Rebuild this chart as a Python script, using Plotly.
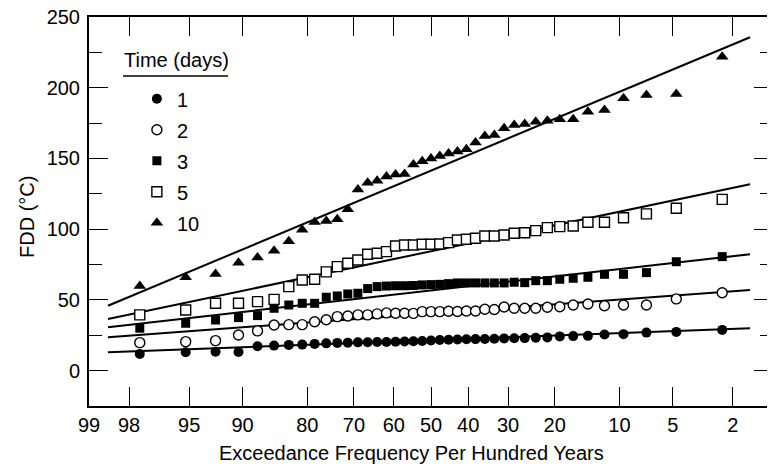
import plotly.graph_objects as go
from statistics import NormalDist

# exceedance frequency (per hundred years) of each ranked value
exceedance = [97.62, 95.24, 92.86, 90.48, 88.10, 85.71, 83.33, 80.95, 78.57, 76.19,
              73.81, 71.43, 69.05, 66.67, 64.29, 61.90, 59.52, 57.14, 54.76, 52.38,
              50.00, 47.62, 45.24, 42.86, 40.48, 38.10, 35.71, 33.33, 30.95, 28.57,
              26.19, 23.81, 21.43, 19.05, 16.67, 14.29, 11.90, 9.52, 7.14, 4.76, 2.38]

fdd_1 = [11.8, 13.0, 13.4, 13.2, 17.2, 17.7, 18.2, 18.4, 18.9, 19.3, 19.6, 19.8, 20.0, 20.1,
         20.2, 20.3, 20.4, 20.6, 20.8, 21.0, 21.3, 21.6, 21.8, 22.0, 22.2, 22.3, 22.4, 22.6,
         22.8, 22.9, 23.0, 23.2, 23.5, 24.2, 24.4, 24.6, 25.6, 25.8, 26.9, 27.4, 28.8]
fdd_2 = [19.8, 20.5, 21.2, 25.2, 28.1, 32.3, 32.5, 32.5, 34.6, 36.0, 38.2, 38.6, 39.4, 39.4,
         40.1, 40.8, 40.6, 40.6, 40.5, 41.7, 41.7, 41.7, 42.0, 41.8, 42.2, 42.2, 43.4, 43.2,
         45.0, 44.1, 44.1, 44.1, 44.8, 45.2, 46.4, 47.1, 45.9, 46.4, 46.4, 50.7, 55.1]
fdd_3 = [30.0, 33.5, 35.8, 37.5, 38.9, 44.1, 46.4, 47.6, 47.6, 51.9, 52.8, 54.2, 54.7, 58.0,
         59.4, 59.8, 60.0, 60.0, 60.2, 60.6, 60.8, 61.0, 61.5, 62.0, 62.0, 62.0, 62.0, 62.0,
         62.0, 62.5, 62.2, 63.6, 63.6, 64.6, 65.3, 66.0, 68.1, 68.1, 69.3, 77.0, 80.6]
fdd_5 = [39.4, 42.9, 47.6, 47.6, 48.8, 50.4, 59.4, 64.1, 64.6, 69.8, 73.5, 75.9, 78.2, 82.3,
         83.0, 84.1, 88.1, 88.8, 88.8, 89.3, 89.3, 89.5, 90.5, 92.4, 92.9, 93.6, 95.2, 95.2,
         95.9, 97.1, 97.5, 99.0, 101.1, 101.8, 102.3, 104.9, 104.9, 108.1, 110.8, 114.8, 121.1]
fdd_10 = [59.9, 66.0, 68.3, 76.3, 80.0, 84.8, 91.5, 99.6, 105.0, 105.8, 107.0, 114.1, 128.0,
          132.9, 134.3, 137.3, 138.6, 139.0, 145.7, 148.0, 150.0, 151.8, 153.5, 155.0, 156.5,
          161.2, 165.9, 166.6, 171.3, 173.6, 174.4, 176.0, 176.7, 177.7, 177.7, 183.1, 184.3,
          192.5, 194.9, 195.6, 221.9]

# fitted lines, given by their end values
fit_exceedance = [98.6, 1.5]
fit_1 = [13.0, 30.0]
fit_2 = [23.6, 57.0]
fit_3 = [30.7, 82.3]
fit_5 = [36.5, 131.7]
fit_10 = [45.9, 235.7]

tick_freqs = [99, 98, 95, 90, 80, 70, 60, 50, 40, 30, 20, 10, 5, 2, 1]

nd = NormalDist()


def prob(freqs):
    # normal probability scale
    return [nd.inv_cdf(1 - f / 100) for f in freqs]


FONT = 'Liberation Sans, Arial, sans-serif'

series = [
    ('1', fdd_1, fit_1, dict(symbol='circle', size=10, color='black')),
    ('2', fdd_2, fit_2, dict(symbol='circle', size=10, color='white', line=dict(color='black', width=1.4))),
    ('3', fdd_3, fit_3, dict(symbol='square', size=9, color='black')),
    ('5', fdd_5, fit_5, dict(symbol='square', size=10, color='white', line=dict(color='black', width=1.4))),
    ('10', fdd_10, fit_10, dict(symbol='triangle-up', size=11, color='black')),
]

fig = go.Figure()
for name, vals, fit, mk in series:
    fig.add_trace(go.Scatter(x=prob(fit_exceedance), y=fit, mode='lines',
                             line=dict(color='black', width=2), showlegend=False,
                             hoverinfo='skip'))
for i, (name, vals, fit, mk) in enumerate(series):
    fig.add_trace(go.Scatter(x=prob(exceedance), y=vals, mode='markers', name=name,
                             marker=mk, legendgroup='g%d' % i))

lo, hi = prob([99, 1])
# the page body adds an 8px offset, so margins are shifted back by 8px
fig.update_layout(
    width=775, height=466,
    margin=dict(l=81, r=10, t=9, b=68),
    paper_bgcolor='white', plot_bgcolor='white',
    font=dict(family=FONT, size=20, color='black'),
    showlegend=True,
    legend=dict(x=0.07, y=0.84, xanchor='left', yanchor='top',
                bgcolor='rgba(0,0,0,0)', font=dict(size=20),
                tracegroupgap=2, itemwidth=30),
    xaxis=dict(range=[lo, hi], tickvals=prob(tick_freqs), ticktext=[str(t) for t in tick_freqs],
               ticks='inside', ticklen=19, tickwidth=1.3, tickcolor='black',
               showline=True, linewidth=2, linecolor='black', mirror='ticks',
               showgrid=False, zeroline=False, tickfont=dict(size=20), automargin=False,
               ticklabeloverflow='allow'),
    yaxis=dict(range=[-25, 250], tickvals=[0, 50, 100, 150, 200, 250],
               ticks='inside', ticklen=19, tickwidth=1.3, tickcolor='black',
               minor=dict(dtick=25, tick0=0, ticks='inside', ticklen=13, tickwidth=1.3,
                          tickcolor='black', showgrid=False),
               showline=True, linewidth=2, linecolor='black', mirror='ticks',
               showgrid=False, zeroline=False, tickfont=dict(size=20), automargin=False,
               ticklabelstandoff=3, ticklabeloverflow='allow'),
    annotations=[
        dict(text='Exceedance Frequency Per Hundred Years', x=0.472, y=-0.1217,
             xref='paper', yref='paper', showarrow=False, xanchor='center', yanchor='middle',
             font=dict(size=20)),
        dict(text='FDD (°C)', x=-0.0906, y=0.486, xref='paper', yref='paper',
             showarrow=False, textangle=-90, xanchor='center', yanchor='middle',
             font=dict(size=20)),
        dict(text='Time (days)', x=0.0482, y=0.8895, xref='paper', yref='paper',
             showarrow=False, xanchor='left', yanchor='middle', font=dict(size=20)),
    ],
    shapes=[
        dict(type='line', xref='paper', yref='paper', x0=0.0497, x1=0.2032, y0=0.8483, y1=0.8483,
             line=dict(color='black', width=1.5)),
    ],
)

fig.write_html('out.html')
